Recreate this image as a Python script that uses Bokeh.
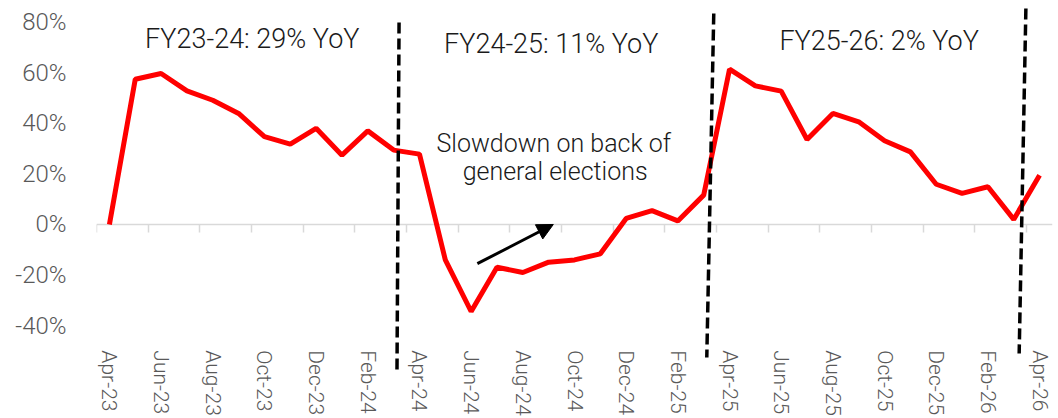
import math
from bokeh.plotting import figure
from bokeh.models import (LinearAxis, FixedTicker, Range1d, Arrow, NormalHead,
                          PrintfTickFormatter, ColumnDataSource)
from bokeh.embed import file_html
from bokeh.resources import INLINE
from bokeh.core.properties import value

# ---------------- data ----------------
months = ["Apr-23", "May-23", "Jun-23", "Jul-23", "Aug-23", "Sep-23", "Oct-23",
          "Nov-23", "Dec-23", "Jan-24", "Feb-24", "Mar-24", "Apr-24", "May-24",
          "Jun-24", "Jul-24", "Aug-24", "Sep-24", "Oct-24", "Nov-24", "Dec-24",
          "Jan-25", "Feb-25", "Mar-25", "Apr-25", "May-25", "Jun-25", "Jul-25",
          "Aug-25", "Sep-25", "Oct-25", "Nov-25", "Dec-25", "Jan-26", "Feb-26",
          "Mar-26", "Apr-26"]
growth_pct = [0.0, 57.4, 59.7, 52.8, 49.1, 43.9, 34.7, 31.8, 38.0, 27.4, 37.0,
              29.4, 27.8, -14.0, -34.4, -16.9, -19.0, -14.9, -14.0, -11.6, 2.4,
              5.5, 1.4, 11.6, 61.4, 54.8, 52.7, 33.6, 43.9, 40.6, 33.1, 28.7,
              15.9, 12.3, 14.9, 2.0, 19.5]
y_ticks = [-40, -20, 0, 20, 40, 60, 80]
period_labels = ["FY23-24: 29% YoY", "FY24-25: 11% YoY", "FY25-26: 2% YoY"]
note_lines = ["Slowdown on back of", "general elections"]

# ---------------- annotation geometry ----------------
period_x = [5.53, 17.1, 29.79]
period_y = [73.5, 71.5, 72.7]
divider_x = [(11.21, 11.13), (23.39, 23.12), (35.47, 35.21)]
divider_y = [(79.8, -57.7), (83.4, -52.6), (85.4, -51.0)]
note_x = [17.2, 17.25]
note_y = [32.0, 21.0]
arrow_xy = (14.24, -15.5, 17.18, 0.0)

FONT = "Roboto Light"
idx = list(range(len(months)))

p = figure(width=1058, height=418, output_backend="svg", toolbar_location=None,
           x_range=Range1d(-0.5, 36.5), y_range=Range1d(-76.7, 88.54),
           min_border_left=96, min_border_right=6, min_border_top=0,
           min_border_bottom=0, background_fill_color="white")
p.outline_line_color = None
p.grid.visible = False
p.xaxis.visible = False

# y axis
ya = p.yaxis[0]
ya.ticker = FixedTicker(ticks=y_ticks)
ya.formatter = PrintfTickFormatter(format="%d%%")
ya.axis_line_color = None
ya.major_tick_line_color = None
ya.minor_tick_line_color = None
ya.major_label_text_font = FONT
ya.major_label_text_font_size = "24px"
ya.major_label_text_color = "#595959"
ya.major_label_standoff = 24

# category axis line at 0 with boundary ticks
zero_axis = LinearAxis(fixed_location=0,
                       ticker=FixedTicker(ticks=[i - 0.5 for i in idx[::2]]),
                       axis_line_color="#d9d9d9", axis_line_width=1.5,
                       major_tick_line_color="#d9d9d9", major_tick_line_width=1.5,
                       major_tick_out=8, major_tick_in=0,
                       minor_tick_line_color=None,
                       major_label_text_color=None, level="underlay")
p.add_layout(zero_axis, "below")

# label axis near the bottom
label_axis = LinearAxis(fixed_location=-45,
                        ticker=FixedTicker(ticks=idx[::2]),
                        major_label_overrides={i: months[i] for i in idx[::2]},
                        axis_line_color=None, major_tick_line_color=None,
                        minor_tick_line_color=None,
                        major_label_orientation="vertical",
                        major_label_standoff=6,
                        major_label_text_font=FONT,
                        major_label_text_font_size="21px",
                        major_label_text_color="#595959")
p.add_layout(label_axis, "below")

# data line
src = ColumnDataSource(dict(x=idx, y=growth_pct))
p.line("x", "y", source=src, line_color="#ff0000", line_width=5)

# dashed period dividers
for xs, ys in zip(divider_x, divider_y):
    p.line(list(xs), list(ys), line_color="black", line_width=3.5, line_dash="11 5")

# period labels
p.text(period_x, period_y, text=period_labels, text_font=value(FONT),
       text_font_size="27px", text_align="center", text_baseline="middle",
       text_color="#1a1a1a")

# note
p.text(note_x, note_y, text=note_lines, text_font=value(FONT),
       text_font_size="25px", text_align="center", text_baseline="middle",
       text_color="#1a1a1a")
p.add_layout(Arrow(end=NormalHead(size=16, fill_color="black", line_color="black"),
                   x_start=arrow_xy[0], y_start=arrow_xy[1],
                   x_end=arrow_xy[2], y_end=arrow_xy[3],
                   line_color="black", line_width=3))

open("out.html", "w").write(file_html(p, INLINE))
